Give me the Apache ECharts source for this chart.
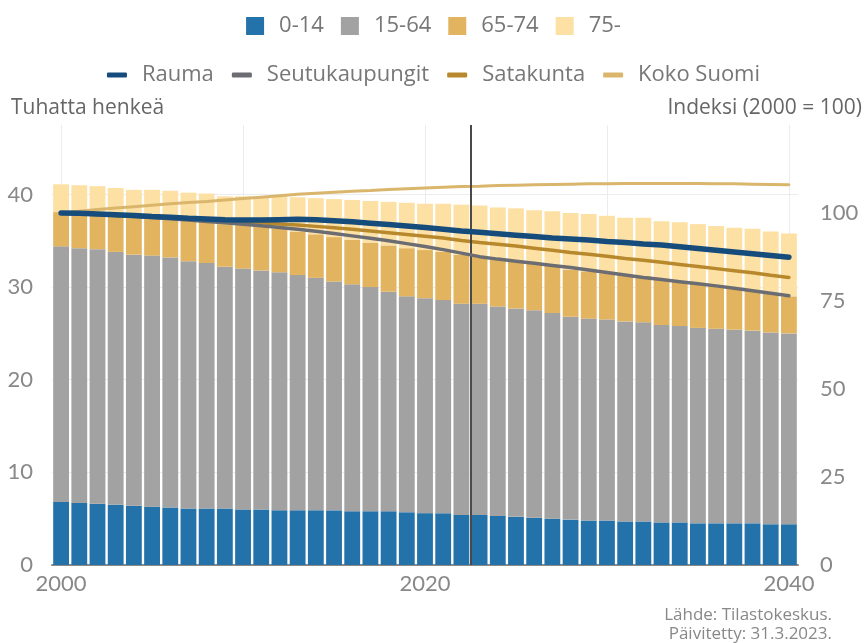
<!DOCTYPE html>
<html><head><meta charset="utf-8">
<script src="https://cdn.jsdelivr.net/npm/echarts@6/dist/echarts.min.js"></script>
<style>html,body{margin:0;padding:0;background:#fff}#c{width:867px;height:643px}</style>
</head><body><div id="c"></div>
<script>
const years = [2000,2001,2002,2003,2004,2005,2006,2007,2008,2009,2010,
  2011,2012,2013,2014,2015,2016,2017,2018,2019,2020,
  2021,2022,2023,2024,2025,2026,2027,2028,2029,2030,
  2031,2032,2033,2034,2035,2036,2037,2038,2039,2040];
const age0_14 = [6.8,6.7,6.6,6.5,6.4,6.3,6.2,6.1,6.1,6.1,6.0,
  6.0,5.9,5.9,5.9,5.9,5.8,5.8,5.8,5.7,5.6,
  5.6,5.4,5.4,5.3,5.2,5.1,5.0,4.9,4.8,4.8,
  4.7,4.7,4.6,4.6,4.5,4.5,4.5,4.5,4.4,4.4];
const age15_64 = [27.6,27.5,27.5,27.3,27.1,27.1,27.0,26.7,26.5,26.1,26.0,
  25.8,25.7,25.4,25.1,24.7,24.5,24.2,23.7,23.3,23.2,
  23.0,22.8,22.8,22.6,22.5,22.4,22.2,21.9,21.8,21.7,
  21.6,21.5,21.3,21.2,21.1,21.0,20.9,20.8,20.7,20.6];
const age65_74 = [3.7,3.8,3.8,3.9,4.0,4.1,4.2,4.4,4.5,4.6,4.7,
  4.7,4.7,4.7,4.7,4.8,4.8,4.8,5.0,5.2,5.2,
  5.2,5.3,5.1,5.2,5.2,5.1,5.1,5.1,5.1,5.0,
  5.0,5.0,4.9,4.9,4.8,4.7,4.5,4.4,4.2,4.0];
const age75 = [3.0,3.0,3.0,3.0,3.0,3.0,3.0,3.0,3.0,3.0,3.1,
  3.3,3.5,3.7,3.9,4.1,4.3,4.5,4.7,4.9,5.0,
  5.2,5.4,5.5,5.5,5.6,5.7,5.9,6.1,6.2,6.2,
  6.2,6.3,6.3,6.3,6.4,6.4,6.5,6.6,6.7,6.8];
const rauma = [100,99.9,99.7,99.5,99.3,99.0,98.8,98.5,98.3,98.1,98.0,
  98.0,98.1,98.2,98.1,97.8,97.5,97.1,96.7,96.3,95.9,
  95.4,94.9,94.5,94.1,93.7,93.3,92.9,92.6,92.3,91.9,
  91.6,91.2,90.9,90.4,89.9,89.4,88.9,88.4,87.9,87.4];
const seutukaupungit = [100,99.8,99.6,99.3,99.0,98.7,98.4,98.0,97.6,97.2,96.8,
  96.4,95.9,95.4,94.8,94.2,93.5,92.8,92.1,91.3,90.5,
  89.6,88.6,87.6,86.9,86.3,85.7,85.1,84.5,83.8,83.1,
  82.4,81.7,81.1,80.5,79.9,79.3,78.6,77.9,77.2,76.5];
const satakunta = [100,99.8,99.6,99.3,99.1,98.8,98.5,98.2,97.9,97.6,97.4,
  97.2,96.9,96.6,96.2,95.8,95.4,94.9,94.4,93.9,93.4,
  92.9,92.2,91.6,91.1,90.6,90.0,89.4,88.8,88.3,87.7,
  87.1,86.6,86.0,85.4,84.8,84.2,83.6,83.0,82.3,81.7];
const kokoSuomi = [100,100.5,101.0,101.4,101.8,102.2,102.6,103.0,103.3,103.7,104.1,
  104.5,104.9,105.3,105.6,105.9,106.2,106.4,106.7,106.9,107.1,
  107.3,107.5,107.6,107.8,107.9,108.0,108.1,108.2,108.3,108.3,
  108.4,108.4,108.4,108.4,108.4,108.3,108.3,108.2,108.1,108.0];
const xLabelYears = [2000, 2020, 2040];
const xGridYears = [2000, 2010, 2020, 2030, 2040];
const forecastStart = 2022.5;

const pairs = arr => years.map((y, i) => [y, arr[i]]);
const NUMFONT = 'Lato, sans-serif';
const TXTFONT = '"Open Sans", sans-serif';
const chart = echarts.init(document.getElementById('c'));

function barSeries(name, arr, color) {
  return { name, type: 'bar', stack: 'pop', xAxisIndex: 0, yAxisIndex: 0, data: arr,
    barCategoryGap: '13%', itemStyle: { color }, silent: true };
}
function lineSeries(name, arr, color, width, z) {
  return { name, type: 'line', xAxisIndex: 1, yAxisIndex: 1, data: pairs(arr), showSymbol: false,
    symbol: 'none', lineStyle: { color, width, cap: 'round' }, itemStyle: { color }, z, silent: true };
}

const seriesList = [
  barSeries('0-14', age0_14, '#2472aa'),
  barSeries('15-64', age15_64, '#a2a2a2'),
  barSeries('65-74', age65_74, '#e2b45f'),
  barSeries('75-', age75, '#fde0a4'),
  lineSeries('Koko Suomi', kokoSuomi, '#d9b66c', 3, 3),
  lineSeries('Satakunta', satakunta, '#b8892c', 3.5, 4),
  lineSeries('Seutukaupungit', seutukaupungit, '#6c6d72', 3.5, 5),
  lineSeries('Rauma', rauma, '#164c7c', 5.5, 6)
];
seriesList[7].markLine = {
  silent: true, symbol: 'none', label: { show: false },
  lineStyle: { color: '#4a4a4a', width: 2, type: 'solid' },
  data: [{ xAxis: forecastStart }]
};

const legendText = { fontSize: 22, color: '#777', fontFamily: TXTFONT, padding: [0, 0, 0, 10] };

chart.setOption({
  animation: false,
  textStyle: { fontFamily: NUMFONT },
  grid: { left: 52, right: 69, top: 125, bottom: 78, containLabel: false },
  legend: [
    { data: ['0-14', '15-64', '65-74', '75-'], top: 10, left: 'center',
      icon: 'rect', itemWidth: 18, itemHeight: 18, itemGap: 17, textStyle: legendText },
    { data: ['Rauma', 'Seutukaupungit', 'Satakunta', 'Koko Suomi'], top: 59, left: 'center',
      icon: 'roundRect', itemWidth: 20, itemHeight: 5, itemGap: 18, textStyle: legendText }
  ],
  graphic: [
    { type: 'text', left: 11, top: 98, style: { text: 'Tuhatta henkeä', fontSize: 21, fill: '#666', fontFamily: TXTFONT } },
    { type: 'text', right: 5, top: 98, style: { text: 'Indeksi (2000 = 100)', fontSize: 21, fill: '#666', fontFamily: TXTFONT } },
    { type: 'text', right: 35, top: 607, style: { text: 'Lähde: Tilastokeskus.', fontSize: 17, fill: '#888', align: 'right', fontFamily: TXTFONT } },
    { type: 'text', right: 35, top: 626, style: { text: 'Päivitetty: 31.3.2023.', fontSize: 17, fill: '#888', align: 'right', fontFamily: TXTFONT } }
  ],
  xAxis: [
    { type: 'category', data: years, show: false, boundaryGap: true },
    { type: 'value', min: 1999.5, max: 2040.5, position: 'bottom',
      axisLine: { show: true, lineStyle: { color: '#8a8a8a', width: 2 } },
      axisTick: { show: false, customValues: xGridYears },
      axisLabel: { customValues: xLabelYears, fontSize: 22, color: '#888', margin: 8, formatter: v => String(v) },
      splitLine: { show: true, lineStyle: { color: '#ececf0', width: 1 } } }
  ],
  yAxis: [
    { type: 'value', min: 0, max: 47.5, interval: 10,
      axisLine: { show: false }, axisTick: { show: false },
      axisLabel: { fontSize: 22, color: '#888', margin: 19, showMaxLabel: false },
      splitLine: { show: true, showMaxLine: false, lineStyle: { color: '#ececf0', width: 1 } } },
    { type: 'value', min: 0, max: 125, interval: 25,
      axisLine: { show: false }, axisTick: { show: false },
      axisLabel: { fontSize: 22, color: '#888', margin: 22, showMaxLabel: false },
      splitLine: { show: false } }
  ],
  series: seriesList
});
</script>
</body></html>
